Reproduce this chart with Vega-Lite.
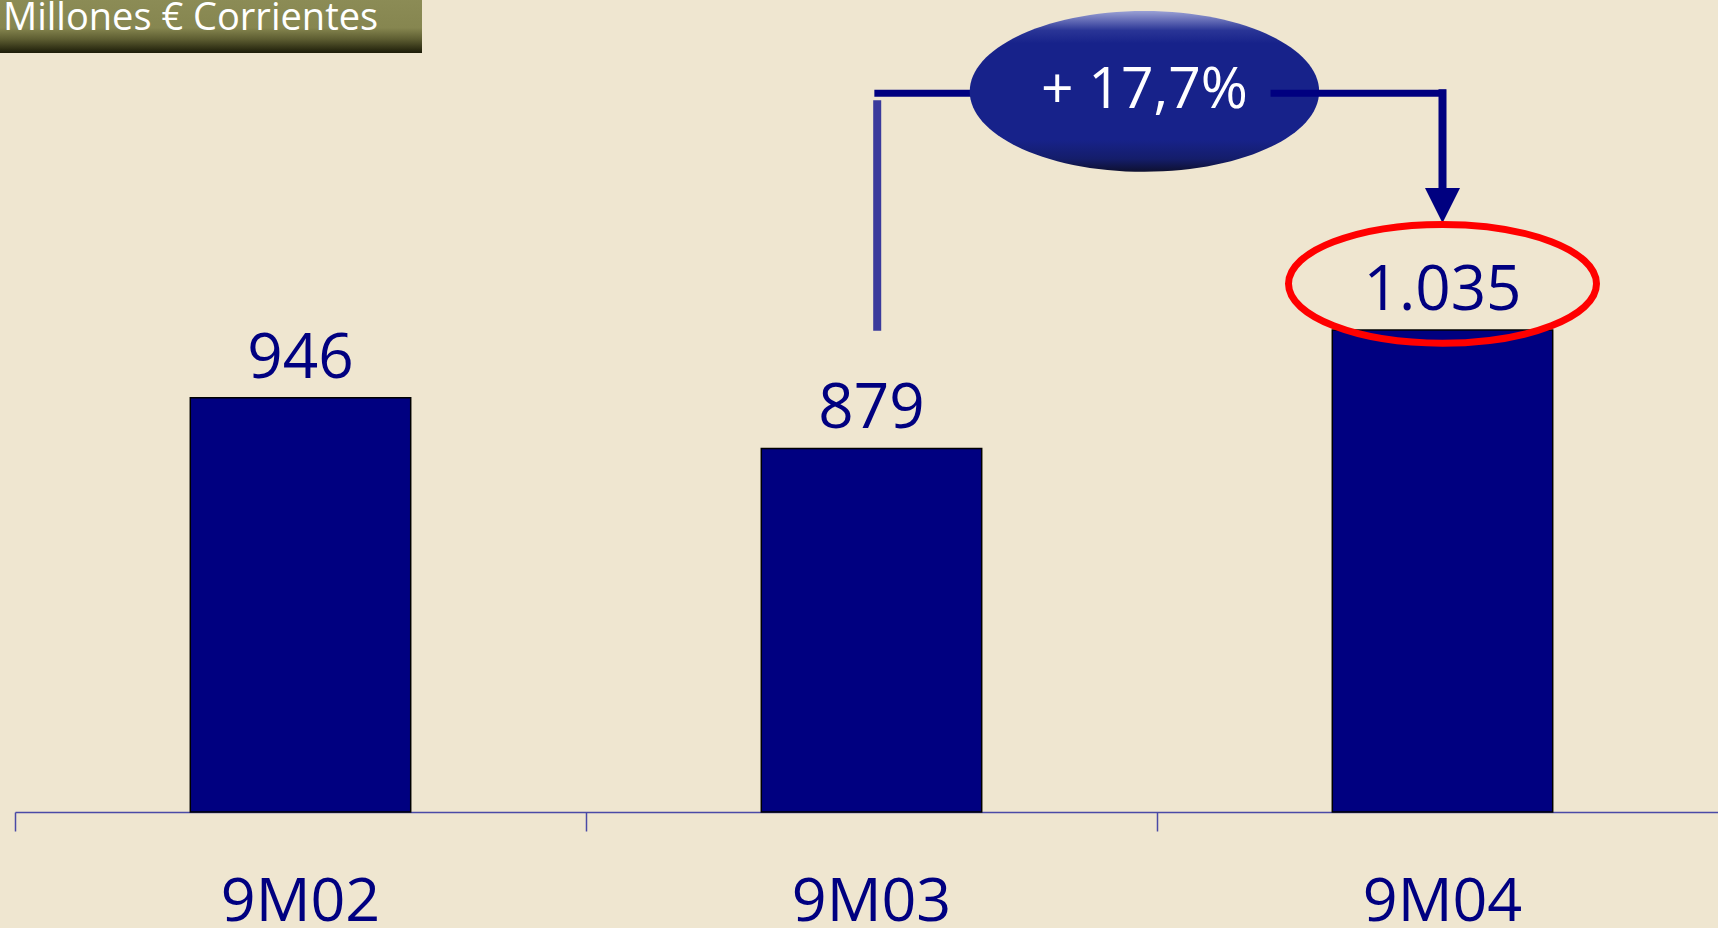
{
  "$schema": "https://vega.github.io/schema/vega-lite/v6.json",
  "width": 1703,
  "height": 812,
  "autosize": {"type": "none"},
  "padding": {"left": 15, "top": 0, "right": 0, "bottom": 116},
  "background": "#EFE6D0",
  "config": {"view": {"stroke": null}, "font": "Open Sans"},
  "data": {
    "values": [
      {"periodo": "9M02", "valor": 946, "etiqueta": "946", "serie": "Millones € Corrientes"},
      {"periodo": "9M03", "valor": 879, "etiqueta": "879", "serie": "Millones € Corrientes"},
      {"periodo": "9M04", "valor": 1035, "etiqueta": "1.035", "serie": "Millones € Corrientes"}
    ]
  },
  "layer": [
    {
      "mark": {"type": "bar", "width": {"band": 0.386}, "stroke": "#000000", "strokeWidth": 1.5},
      "encoding": {
        "x": {
          "field": "periodo",
          "type": "nominal",
          "scale": {"domain": ["9M02", "9M03", "9M04"], "range": [0, 1713], "paddingInner": 0, "paddingOuter": 0},
          "axis": {
            "title": null,
            "bandPosition": 0,
            "labelAngle": 0,
            "labelFont": "Open Sans",
            "labelFontSize": 61,
            "labelColor": "#000080",
            "labelPadding": 41,
            "domainColor": "#4A4AA6",
            "domainWidth": 1.5,
            "tickColor": "#4A4AA6",
            "tickWidth": 1.5,
            "tickSize": 19,
            "grid": false
          }
        },
        "y": {
          "field": "valor",
          "type": "quantitative",
          "scale": {"domain": [400, 1470], "nice": false, "zero": false},
          "axis": null
        },
        "y2": {"datum": 400},
        "color": {
          "field": "serie",
          "type": "nominal",
          "scale": {"range": ["#000080"]},
          "legend": {
            "orient": "none",
            "legendX": -15,
            "legendY": -3,
            "title": "Millones € Corrientes",
            "titleFont": "Open Sans",
            "titleFontSize": 38,
            "titleFontWeight": "normal",
            "titleColor": "#FFFFFF",
            "titleLimit": 1000,
            "titlePadding": 11,
            "padding": 3,
            "fillColor": {
              "value": {
                "x1": 0, "y1": 0, "x2": 0, "y2": 1,
                "gradient": "linear",
                "stops": [
                  {"offset": 0, "color": "#8C8C56"},
                  {"offset": 0.55, "color": "#868650"},
                  {"offset": 0.75, "color": "#5E5E32"},
                  {"offset": 1, "color": "#1C1C08"}
                ]
              }
            },
            "strokeColor": null,
            "symbolSize": 0,
            "symbolOpacity": 0,
            "symbolStrokeWidth": 0,
            "labelOffset": 415,
            "labelExpr": "''",
            "labelFontSize": 1
          }
        }
      }
    },
    {
      "mark": {"type": "text", "baseline": "alphabetic", "dy": -20, "font": "Open Sans", "fontSize": 62, "color": "#000080"},
      "encoding": {
        "x": {"field": "periodo", "type": "nominal"},
        "y": {"field": "valor", "type": "quantitative"},
        "text": {"field": "etiqueta"}
      }
    },
    {
      "data": {"values": [{}]},
      "mark": {"type": "rule", "color": "#3A3A9C", "strokeWidth": 8},
      "encoding": {
        "x": {"datum": "9M03", "type": "nominal", "bandPosition": 0.51},
        "y": {"datum": 1338, "type": "quantitative"},
        "y2": {"datum": 1034}
      }
    },
    {
      "data": {"values": [{}]},
      "mark": {"type": "rule", "color": "#000080", "strokeWidth": 7},
      "encoding": {
        "x": {"datum": "9M03", "type": "nominal", "bandPosition": 0.505},
        "x2": {"datum": "9M04", "bandPosition": 0},
        "y": {"datum": 1347, "type": "quantitative"}
      }
    },
    {
      "data": {"values": [{}]},
      "mark": {
        "type": "point",
        "shape": "M -1 0 C -1 -0.254 -0.5523 -0.46 0 -0.46 C 0.5523 -0.46 1 -0.254 1 0 C 1 0.254 0.5523 0.46 0 0.46 C -0.5523 0.46 -1 0.254 -1 0 Z",
        "size": 122080,
        "filled": true,
        "opacity": 1,
        "strokeWidth": 0,
        "fill": {
          "x1": 0, "y1": 0, "x2": 0, "y2": 1,
          "gradient": "linear",
          "stops": [
            {"offset": 0, "color": "#9AA0D4"},
            {"offset": 0.12, "color": "#2A3596"},
            {"offset": 0.2, "color": "#17228A"},
            {"offset": 0.8, "color": "#17228A"},
            {"offset": 0.92, "color": "#141D6A"},
            {"offset": 1, "color": "#0E1030"}
          ]
        }
      },
      "encoding": {
        "x": {"datum": "9M03", "type": "nominal", "bandPosition": 0.978},
        "y": {"datum": 1349.5, "type": "quantitative"}
      }
    },
    {
      "data": {"values": [{"texto": "+ 17,7%"}]},
      "mark": {"type": "text", "baseline": "middle", "align": "center", "font": "Open Sans", "fontSize": 57, "color": "#FFFFFF"},
      "encoding": {
        "x": {"datum": "9M03", "type": "nominal", "bandPosition": 0.978},
        "y": {"datum": 1350, "type": "quantitative"},
        "text": {"field": "texto"}
      }
    },
    {
      "data": {"values": [{}]},
      "mark": {"type": "rule", "color": "#000080", "strokeWidth": 7, "strokeCap": "square"},
      "encoding": {
        "x": {"datum": "9M04", "type": "nominal"},
        "x2": {"datum": "9M04", "bandPosition": 0.205},
        "y": {"datum": 1347, "type": "quantitative"}
      }
    },
    {
      "data": {"values": [{}]},
      "mark": {"type": "rule", "color": "#000080", "strokeWidth": 8, "strokeCap": "square"},
      "encoding": {
        "x": {"datum": "9M04", "type": "nominal"},
        "y": {"datum": 1347, "type": "quantitative"},
        "y2": {"datum": 1220}
      }
    },
    {
      "data": {"values": [{}]},
      "mark": {"type": "point", "shape": "M -1 -1 L 1 -1 L 0 1 Z", "size": 1225, "filled": true, "opacity": 1, "strokeWidth": 0, "color": "#000080"},
      "encoding": {
        "x": {"datum": "9M04", "type": "nominal"},
        "y": {"datum": 1199.3, "type": "quantitative"}
      }
    },
    {
      "data": {"values": [{}]},
      "mark": {
        "type": "point",
        "shape": "M -1 0 C -1 -0.2132 -0.5523 -0.386 0 -0.386 C 0.5523 -0.386 1 -0.2132 1 0 C 1 0.2132 0.5523 0.386 0 0.386 C -0.5523 0.386 -1 0.2132 -1 0 Z",
        "size": 94864,
        "filled": false,
        "opacity": 1,
        "strokeWidth": 7,
        "color": "#FF0000"
      },
      "encoding": {
        "x": {"datum": "9M04", "type": "nominal"},
        "y": {"datum": 1096, "type": "quantitative"}
      }
    }
  ]
}
